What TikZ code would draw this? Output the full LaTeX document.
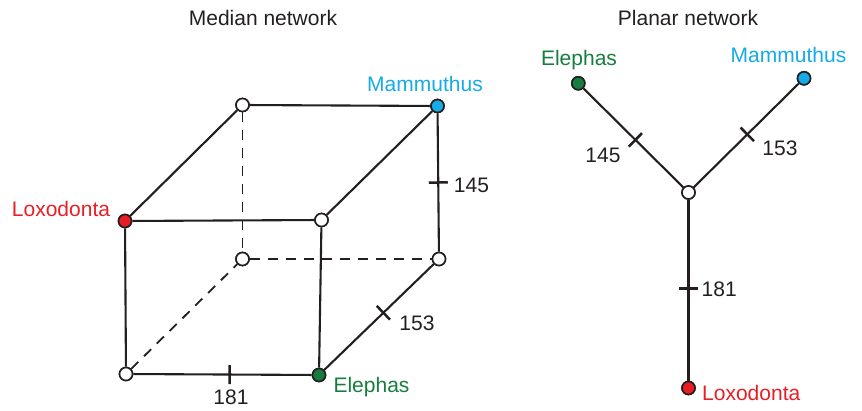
\documentclass[tikz,border=0pt]{standalone}
\usepackage{fontspec}
\setmainfont{Liberation Sans}
\definecolor{lred}{RGB}{232,30,37}
\definecolor{lgreen}{RGB}{22,125,62}
\definecolor{lblue}{RGB}{22,170,230}
\definecolor{ink}{RGB}{35,31,32}
\tikzset{
  vtx/.style={circle, draw=ink, line width=1.6pt, inner sep=0pt, minimum size=13pt, fill=white},
  edge/.style={draw=ink, line width=2.1pt},
  hid/.style={draw=ink, line width=1.8pt, dash pattern=on 10pt off 8pt},
  tick/.style={sloped, inner sep=0pt, minimum width=0pt, minimum height=19pt, outer sep=0pt},
  tickline/.style={draw=ink, line width=2.5pt},
  lbl/.style={font=\fontsize{21}{25}\selectfont, text=ink, inner sep=0pt},
}
\begin{document}
\begin{tikzpicture}[x=1pt,y=-1pt]
\useasboundingbox (0,0) rectangle (862,411);
% titles
\node[lbl] (t1) at (263,18) {Median network};
\node[lbl] (t2) at (688,18) {Planar network};
% cube vertices
\node[vtx] (btl) at (242.5,105) {};
\node[vtx, fill=lblue] (mam) at (437.5,106) {};
\node[vtx, fill=lred] (lox) at (125,221) {};
\node[vtx] (ftr) at (321.5,220) {};
\node[vtx] (bbl) at (242.5,259) {};
\node[vtx] (bbr) at (439,259) {};
\node[vtx] (fbl) at (126,374) {};
\node[vtx, fill=lgreen] (ele) at (319,375) {};
% hidden edges
\draw[hid] (btl) -- (bbl);
\draw[hid] (bbl) -- (bbr);
\draw[hid] (fbl) -- (bbl);
% visible edges
\draw[edge] (lox) -- (ftr);
\draw[edge] (lox) -- (fbl);
\draw[edge] (ftr) -- (ele);
\draw[edge] (fbl) -- node[tick, pos=0.54] (k181) {} (ele);
\draw[edge] (btl) -- (mam);
\draw[edge] (lox) -- (btl);
\draw[edge] (ftr) -- (mam);
\draw[edge] (mam) -- node[tick, pos=0.5] (k145) {} (bbr);
\draw[edge] (ele) -- node[tick, pos=0.54] (k153) {} (bbr);
\foreach \k in {k181,k145,k153}
  \draw[tickline] (\k.north) -- (\k.south);
% redraw nodes on top
\foreach \n/\c in {btl/white,mam/lblue,lox/lred,ftr/white,bbl/white,bbr/white,fbl/white,ele/lgreen}
  \node[vtx, fill=\c] at (\n) {};
% labels
\node[lbl, text=lblue] (lmam) at (425,84) {Mammuthus};
\node[lbl, text=lred] (llox) at (61,209) {Loxodonta};
\node[lbl, text=lgreen] (lele) at (371.5,387) {Elephas};
\node[lbl] (n145) at (471.5,185) {145};
\node[lbl] (n153) at (417,323) {153};
\node[lbl] (n181) at (231,397) {181};
% planar network
\node[vtx] (ctr) at (688.5,192.5) {};
\node[vtx, fill=lgreen] (pele) at (578.3,83.3) {};
\node[vtx, fill=lblue] (pmam) at (804,78.3) {};
\node[vtx, fill=lred] (plox) at (688.5,388) {};
\draw[edge] (pele) -- node[tick, pos=0.52] (q145) {} (ctr);
\draw[edge] (ctr) -- node[tick, pos=0.51] (q153) {} (pmam);
\draw[edge] (ctr) -- node[tick, pos=0.49] (q181) {} (plox);
\foreach \k in {q145,q153,q181}
  \draw[tickline] (\k.north) -- (\k.south);
\foreach \n/\c in {ctr/white,pele/lgreen,pmam/lblue,plox/lred}
  \node[vtx, fill=\c] at (\n) {};
\node[lbl, text=lgreen] (lpele) at (579,60) {Elephas};
\node[lbl, text=lblue] (lpmam) at (788.5,55) {Mammuthus};
\node[lbl, text=lred, anchor=west] (lplox) at (702,393) {Loxodonta};
\node[lbl] (p145) at (603,155) {145};
\node[lbl] (p153) at (780,148) {153};
\node[lbl, anchor=west] (p181) at (701.5,289.5) {181};
\end{tikzpicture}
\end{document}
